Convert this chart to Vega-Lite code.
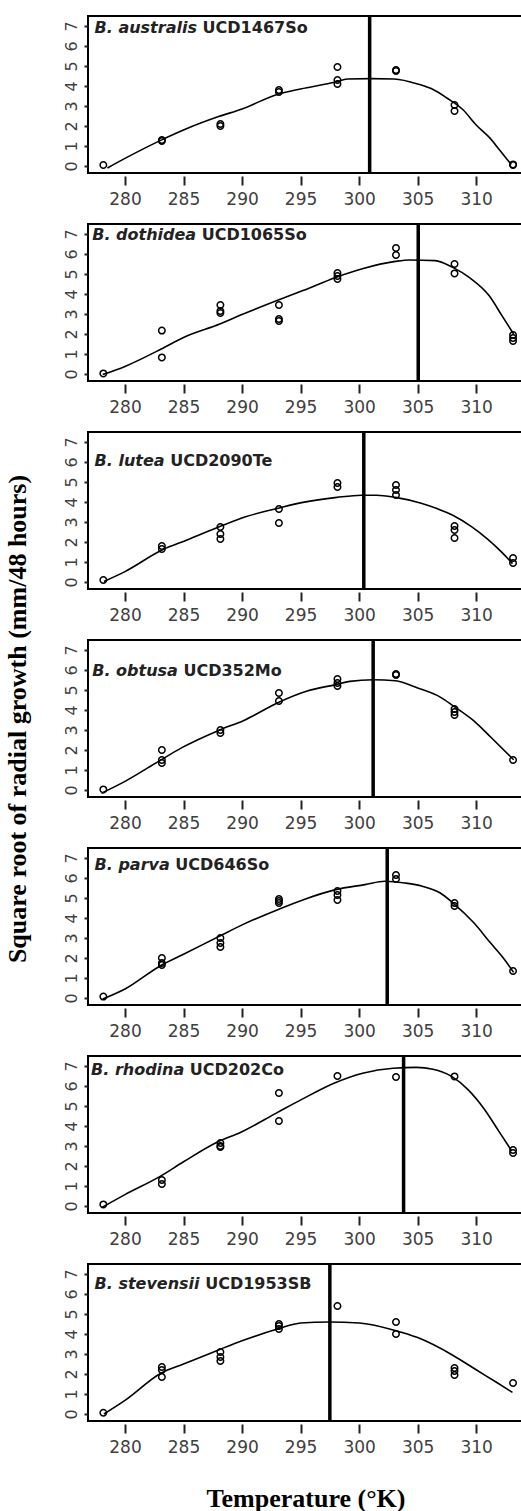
{
"$schema": "https://vega.github.io/schema/vega-lite/v6.json",
"padding": {"left": 2, "top": 13, "right": 0, "bottom": 0},
"background": "white",
"bounds": "flush",
"spacing": 51,
"config": {
  "view": {"stroke": "black", "strokeWidth": 2},
  "axis": {"grid": false, "domain": false, "labelFont": "DejaVu Sans", "labelColor": "#404040", "tickColor": "#222222", "tickWidth": 2, "title": null},
  "axisX": {"tickSize": 9, "offset": 3, "labelFontSize": 17, "labelPadding": 6},
  "axisY": {"tickSize": 4, "labelFontSize": 16, "labelPadding": 5}
},
"datasets": {
  "info": [
    {"id": "aus", "species": "B. australis", "strain": "UCD1467So", "topt": 300.9},
    {"id": "dot", "species": "B. dothidea", "strain": "UCD1065So", "topt": 305.05},
    {"id": "lut", "species": "B. lutea", "strain": "UCD2090Te", "topt": 300.4},
    {"id": "obt", "species": "B. obtusa", "strain": "UCD352Mo", "topt": 301.2},
    {"id": "par", "species": "B. parva", "strain": "UCD646So", "topt": 302.4},
    {"id": "rho", "species": "B. rhodina", "strain": "UCD202Co", "topt": 303.8},
    {"id": "ste", "species": "B. stevensii", "strain": "UCD1953SB", "topt": 297.5}
  ],
  "pts": [
    {"id":"aus","temp":278.15,"g":0.05},{"id":"aus","temp":283.15,"g":1.25},{"id":"aus","temp":283.15,"g":1.3},
    {"id":"aus","temp":288.15,"g":2.0},{"id":"aus","temp":288.15,"g":2.1},{"id":"aus","temp":293.15,"g":3.7},{"id":"aus","temp":293.15,"g":3.8},
    {"id":"aus","temp":298.15,"g":4.95},{"id":"aus","temp":298.15,"g":4.3},{"id":"aus","temp":298.15,"g":4.1},
    {"id":"aus","temp":303.15,"g":4.75},{"id":"aus","temp":303.15,"g":4.8},{"id":"aus","temp":308.15,"g":3.05},{"id":"aus","temp":308.15,"g":2.75},
    {"id":"aus","temp":313.15,"g":0.05},{"id":"aus","temp":313.15,"g":0.08},

    {"id":"dot","temp":278.15,"g":0.03},{"id":"dot","temp":283.15,"g":2.17},{"id":"dot","temp":283.15,"g":0.83},
    {"id":"dot","temp":288.15,"g":3.45},{"id":"dot","temp":288.15,"g":3.15},{"id":"dot","temp":288.15,"g":3.05},
    {"id":"dot","temp":293.15,"g":3.45},{"id":"dot","temp":293.15,"g":2.75},{"id":"dot","temp":293.15,"g":2.65},
    {"id":"dot","temp":298.15,"g":5.05},{"id":"dot","temp":298.15,"g":4.9},{"id":"dot","temp":298.15,"g":4.75},
    {"id":"dot","temp":303.15,"g":6.3},{"id":"dot","temp":303.15,"g":5.95},{"id":"dot","temp":308.15,"g":5.5},{"id":"dot","temp":308.15,"g":5.03},
    {"id":"dot","temp":313.15,"g":1.95},{"id":"dot","temp":313.15,"g":1.8},{"id":"dot","temp":313.15,"g":1.65},

    {"id":"lut","temp":278.15,"g":0.1},{"id":"lut","temp":283.15,"g":1.8},{"id":"lut","temp":283.15,"g":1.65},
    {"id":"lut","temp":288.15,"g":2.75},{"id":"lut","temp":288.15,"g":2.4},{"id":"lut","temp":288.15,"g":2.15},
    {"id":"lut","temp":293.15,"g":3.65},{"id":"lut","temp":293.15,"g":2.95},{"id":"lut","temp":298.15,"g":4.95},{"id":"lut","temp":298.15,"g":4.75},
    {"id":"lut","temp":303.15,"g":4.85},{"id":"lut","temp":303.15,"g":4.6},{"id":"lut","temp":303.15,"g":4.35},
    {"id":"lut","temp":308.15,"g":2.8},{"id":"lut","temp":308.15,"g":2.6},{"id":"lut","temp":308.15,"g":2.2},
    {"id":"lut","temp":313.15,"g":1.2},{"id":"lut","temp":313.15,"g":0.95},

    {"id":"obt","temp":278.15,"g":0.03},{"id":"obt","temp":283.15,"g":2.0},{"id":"obt","temp":283.15,"g":1.5},{"id":"obt","temp":283.15,"g":1.35},
    {"id":"obt","temp":288.15,"g":3.0},{"id":"obt","temp":288.15,"g":2.85},{"id":"obt","temp":293.15,"g":4.85},{"id":"obt","temp":293.15,"g":4.45},
    {"id":"obt","temp":298.15,"g":5.55},{"id":"obt","temp":298.15,"g":5.35},{"id":"obt","temp":298.15,"g":5.2},
    {"id":"obt","temp":303.15,"g":5.8},{"id":"obt","temp":303.15,"g":5.75},
    {"id":"obt","temp":308.15,"g":4.05},{"id":"obt","temp":308.15,"g":3.9},{"id":"obt","temp":308.15,"g":3.75},{"id":"obt","temp":313.15,"g":1.5},

    {"id":"par","temp":278.15,"g":0.07},{"id":"par","temp":283.15,"g":2.0},{"id":"par","temp":283.15,"g":1.75},{"id":"par","temp":283.15,"g":1.65},
    {"id":"par","temp":288.15,"g":3.0},{"id":"par","temp":288.15,"g":2.75},{"id":"par","temp":288.15,"g":2.55},
    {"id":"par","temp":293.15,"g":4.95},{"id":"par","temp":293.15,"g":4.85},{"id":"par","temp":293.15,"g":4.75},
    {"id":"par","temp":298.15,"g":5.35},{"id":"par","temp":298.15,"g":5.15},{"id":"par","temp":298.15,"g":4.9},
    {"id":"par","temp":303.15,"g":6.15},{"id":"par","temp":303.15,"g":5.95},{"id":"par","temp":308.15,"g":4.75},{"id":"par","temp":308.15,"g":4.6},
    {"id":"par","temp":313.15,"g":1.35},

    {"id":"rho","temp":278.15,"g":0.08},{"id":"rho","temp":283.15,"g":1.3},{"id":"rho","temp":283.15,"g":1.1},
    {"id":"rho","temp":288.15,"g":3.15},{"id":"rho","temp":288.15,"g":3.0},{"id":"rho","temp":288.15,"g":2.95},
    {"id":"rho","temp":293.15,"g":5.65},{"id":"rho","temp":293.15,"g":4.25},{"id":"rho","temp":298.15,"g":6.5},
    {"id":"rho","temp":303.15,"g":6.45},{"id":"rho","temp":308.15,"g":6.48},{"id":"rho","temp":313.15,"g":2.8},{"id":"rho","temp":313.15,"g":2.65},

    {"id":"ste","temp":278.15,"g":0.06},{"id":"ste","temp":283.15,"g":2.35},{"id":"ste","temp":283.15,"g":2.2},{"id":"ste","temp":283.15,"g":1.85},
    {"id":"ste","temp":288.15,"g":3.1},{"id":"ste","temp":288.15,"g":2.85},{"id":"ste","temp":288.15,"g":2.65},
    {"id":"ste","temp":293.15,"g":4.5},{"id":"ste","temp":293.15,"g":4.4},{"id":"ste","temp":293.15,"g":4.25},
    {"id":"ste","temp":298.15,"g":5.4},{"id":"ste","temp":303.15,"g":4.6},{"id":"ste","temp":303.15,"g":4.0},
    {"id":"ste","temp":308.15,"g":2.3},{"id":"ste","temp":308.15,"g":2.15},{"id":"ste","temp":308.15,"g":1.95},{"id":"ste","temp":313.15,"g":1.55}
  ],
  "curve": [
    {"id":"aus","temp":278.5,"g":-0.1},{"id":"aus","temp":280,"g":0.38},{"id":"aus","temp":283,"g":1.27},{"id":"aus","temp":285,"g":1.8},
    {"id":"aus","temp":288,"g":2.47},{"id":"aus","temp":290,"g":2.85},{"id":"aus","temp":293,"g":3.58},{"id":"aus","temp":295,"g":3.85},
    {"id":"aus","temp":298,"g":4.2},{"id":"aus","temp":299,"g":4.35},{"id":"aus","temp":301,"g":4.37},{"id":"aus","temp":303,"g":4.35},
    {"id":"aus","temp":305,"g":4.1},{"id":"aus","temp":306.4,"g":3.8},{"id":"aus","temp":307.5,"g":3.4},{"id":"aus","temp":308.9,"g":2.8},
    {"id":"aus","temp":310,"g":2.05},{"id":"aus","temp":311.2,"g":1.38},{"id":"aus","temp":312,"g":0.8},{"id":"aus","temp":313,"g":0.07},

    {"id":"dot","temp":278.1,"g":-0.03},{"id":"dot","temp":280,"g":0.38},{"id":"dot","temp":283.1,"g":1.25},{"id":"dot","temp":285,"g":1.83},
    {"id":"dot","temp":288.1,"g":2.5},{"id":"dot","temp":290.1,"g":3.0},{"id":"dot","temp":293.1,"g":3.7},{"id":"dot","temp":295.2,"g":4.17},
    {"id":"dot","temp":298,"g":4.83},{"id":"dot","temp":300.2,"g":5.25},{"id":"dot","temp":303.1,"g":5.63},{"id":"dot","temp":304.3,"g":5.7},
    {"id":"dot","temp":306.5,"g":5.67},{"id":"dot","temp":308,"g":5.33},{"id":"dot","temp":309.4,"g":4.83},{"id":"dot","temp":311.1,"g":3.92},
    {"id":"dot","temp":312.2,"g":2.92},{"id":"dot","temp":313.2,"g":2.0},

    {"id":"lut","temp":278.2,"g":0.03},{"id":"lut","temp":280,"g":0.52},{"id":"lut","temp":283.2,"g":1.61},{"id":"lut","temp":285.3,"g":2.1},
    {"id":"lut","temp":288.1,"g":2.77},{"id":"lut","temp":290.3,"g":3.26},{"id":"lut","temp":293.1,"g":3.69},{"id":"lut","temp":295.2,"g":3.98},
    {"id":"lut","temp":298.1,"g":4.23},{"id":"lut","temp":300.2,"g":4.34},{"id":"lut","temp":301.5,"g":4.34},{"id":"lut","temp":303.1,"g":4.23},
    {"id":"lut","temp":305.3,"g":3.94},{"id":"lut","temp":306.7,"g":3.66},{"id":"lut","temp":308,"g":3.34},{"id":"lut","temp":309.6,"g":2.77},
    {"id":"lut","temp":311,"g":2.13},{"id":"lut","temp":312.2,"g":1.48},{"id":"lut","temp":313.1,"g":0.92},

    {"id":"obt","temp":278,"g":-0.16},{"id":"obt","temp":280,"g":0.43},{"id":"obt","temp":283,"g":1.48},{"id":"obt","temp":284.9,"g":2.13},
    {"id":"obt","temp":288,"g":2.98},{"id":"obt","temp":290.2,"g":3.49},{"id":"obt","temp":293.1,"g":4.38},{"id":"obt","temp":295.5,"g":4.94},
    {"id":"obt","temp":298,"g":5.27},{"id":"obt","temp":299.2,"g":5.43},{"id":"obt","temp":301.2,"g":5.51},{"id":"obt","temp":303.1,"g":5.46},
    {"id":"obt","temp":305,"g":5.1},{"id":"obt","temp":307,"g":4.62},{"id":"obt","temp":308,"g":4.22},{"id":"obt","temp":309.9,"g":3.41},
    {"id":"obt","temp":311.3,"g":2.61},{"id":"obt","temp":313.2,"g":1.51},

    {"id":"par","temp":278.1,"g":-0.05},{"id":"par","temp":280,"g":0.45},{"id":"par","temp":283.1,"g":1.64},{"id":"par","temp":285,"g":2.19},
    {"id":"par","temp":288.1,"g":3.1},{"id":"par","temp":290.1,"g":3.68},{"id":"par","temp":293.1,"g":4.43},{"id":"par","temp":295.3,"g":4.93},
    {"id":"par","temp":298,"g":5.42},{"id":"par","temp":300.5,"g":5.67},{"id":"par","temp":302.2,"g":5.84},{"id":"par","temp":303.9,"g":5.75},
    {"id":"par","temp":305.4,"g":5.59},{"id":"par","temp":306.9,"g":5.26},{"id":"par","temp":308,"g":4.76},{"id":"par","temp":309.8,"g":3.76},
    {"id":"par","temp":311.2,"g":2.77},{"id":"par","temp":312.4,"g":1.94},{"id":"par","temp":313.2,"g":1.28},

    {"id":"rho","temp":278,"g":-0.08},{"id":"rho","temp":280,"g":0.57},{"id":"rho","temp":283,"g":1.48},{"id":"rho","temp":285,"g":2.21},
    {"id":"rho","temp":287.9,"g":3.2},{"id":"rho","temp":289.9,"g":3.69},{"id":"rho","temp":293,"g":4.67},{"id":"rho","temp":295.1,"g":5.33},
    {"id":"rho","temp":297.9,"g":6.15},{"id":"rho","temp":300.3,"g":6.64},{"id":"rho","temp":302.9,"g":6.89},{"id":"rho","temp":304.9,"g":6.93},
    {"id":"rho","temp":306.3,"g":6.84},{"id":"rho","temp":307.9,"g":6.48},{"id":"rho","temp":309.3,"g":5.82},{"id":"rho","temp":310.7,"g":4.84},
    {"id":"rho","temp":311.9,"g":3.77},{"id":"rho","temp":313,"g":2.79},

    {"id":"ste","temp":278.2,"g":0.0},{"id":"ste","temp":280,"g":0.68},{"id":"ste","temp":283.1,"g":2.05},{"id":"ste","temp":285,"g":2.5},
    {"id":"ste","temp":288.1,"g":3.23},{"id":"ste","temp":290,"g":3.66},{"id":"ste","temp":293.1,"g":4.26},{"id":"ste","temp":295,"g":4.55},
    {"id":"ste","temp":297.4,"g":4.6},{"id":"ste","temp":300,"g":4.55},{"id":"ste","temp":303,"g":4.19},{"id":"ste","temp":305,"g":3.82},
    {"id":"ste","temp":308,"g":2.94},{"id":"ste","temp":310,"g":2.21},{"id":"ste","temp":311.8,"g":1.56},{"id":"ste","temp":313.1,"g":1.08}
  ]
},
"vconcat": [
 {"width": 435, "height": 157, "layer": [
  {"data": {"name": "curve"}, "transform": [{"filter": "datum.id === 'aus'"}], "mark": {"type": "line", "color": "black", "strokeWidth": 1.6, "interpolate": "monotone", "clip": true},
   "encoding": {"x": {"field": "temp", "type": "quantitative", "scale": {"domain": [276.84, 314], "nice": false, "zero": false}, "axis": {"values": [280,285,290,295,300,305,310], "title": null}},
                "y": {"field": "g", "type": "quantitative", "scale": {"domain": [-0.35, 7.5], "nice": false, "zero": false}, "axis": {"values": [0,1,2,3,4,5,6,7], "title": null, "labelAngle": -90, "labelAlign": "center", "labelBaseline": "bottom"}}}},
  {"data": {"name": "pts"}, "transform": [{"filter": "datum.id === 'aus'"}], "mark": {"type": "point", "shape": "circle", "filled": false, "color": "black", "strokeWidth": 1.5, "size": 42, "opacity": 1},
   "encoding": {"x": {"field": "temp", "type": "quantitative", "axis": {"values": [280,285,290,295,300,305,310], "title": null}}, "y": {"field": "g", "type": "quantitative", "axis": {"values": [0,1,2,3,4,5,6,7], "title": null, "labelAngle": -90, "labelAlign": "center", "labelBaseline": "bottom"}}}},
  {"data": {"name": "info"}, "transform": [{"filter": "datum.id === 'aus'"}], "mark": {"type": "rule", "color": "black", "strokeWidth": 3.5},
   "encoding": {"x": {"field": "topt", "type": "quantitative", "axis": {"values": [280,285,290,295,300,305,310], "title": null}}}},
  {"data": {"name": "info"}, "transform": [{"filter": "datum.id === 'aus'"}], "mark": {"type": "text", "font": "DejaVu Sans", "fontSize": 16, "fontWeight": "bold", "fontStyle": "italic", "align": "left", "baseline": "alphabetic", "color": "#222222"},
   "encoding": {"x": {"datum": 277.4, "type": "quantitative", "axis": {"values": [280,285,290,295,300,305,310], "title": null}}, "y": {"datum": 6.67, "type": "quantitative", "axis": {"values": [0,1,2,3,4,5,6,7], "title": null, "labelAngle": -90, "labelAlign": "center", "labelBaseline": "bottom"}}, "text": {"field": "species"}}},
  {"data": {"name": "info"}, "transform": [{"filter": "datum.id === 'aus'"}], "mark": {"type": "text", "font": "DejaVu Sans", "fontSize": 16, "fontWeight": "bold", "align": "left", "baseline": "alphabetic", "color": "#222222"},
   "encoding": {"x": {"datum": 286.63, "type": "quantitative", "axis": {"values": [280,285,290,295,300,305,310], "title": null}}, "y": {"datum": 6.67, "type": "quantitative", "axis": {"values": [0,1,2,3,4,5,6,7], "title": null, "labelAngle": -90, "labelAlign": "center", "labelBaseline": "bottom"}}, "text": {"field": "strain"}}}
 ]},
 {"width": 435, "height": 157, "layer": [
  {"data": {"name": "curve"}, "transform": [{"filter": "datum.id === 'dot'"}], "mark": {"type": "line", "color": "black", "strokeWidth": 1.6, "interpolate": "monotone", "clip": true},
   "encoding": {"x": {"field": "temp", "type": "quantitative", "scale": {"domain": [276.84, 314], "nice": false, "zero": false}, "axis": {"values": [280,285,290,295,300,305,310], "title": null}},
                "y": {"field": "g", "type": "quantitative", "scale": {"domain": [-0.35, 7.5], "nice": false, "zero": false}, "axis": {"values": [0,1,2,3,4,5,6,7], "title": null, "labelAngle": -90, "labelAlign": "center", "labelBaseline": "bottom"}}}},
  {"data": {"name": "pts"}, "transform": [{"filter": "datum.id === 'dot'"}], "mark": {"type": "point", "shape": "circle", "filled": false, "color": "black", "strokeWidth": 1.5, "size": 42, "opacity": 1},
   "encoding": {"x": {"field": "temp", "type": "quantitative", "axis": {"values": [280,285,290,295,300,305,310], "title": null}}, "y": {"field": "g", "type": "quantitative", "axis": {"values": [0,1,2,3,4,5,6,7], "title": null, "labelAngle": -90, "labelAlign": "center", "labelBaseline": "bottom"}}}},
  {"data": {"name": "info"}, "transform": [{"filter": "datum.id === 'dot'"}], "mark": {"type": "rule", "color": "black", "strokeWidth": 3.5},
   "encoding": {"x": {"field": "topt", "type": "quantitative", "axis": {"values": [280,285,290,295,300,305,310], "title": null}}}},
  {"data": {"name": "info"}, "transform": [{"filter": "datum.id === 'dot'"}], "mark": {"type": "text", "font": "DejaVu Sans", "fontSize": 16, "fontWeight": "bold", "fontStyle": "italic", "align": "left", "baseline": "alphabetic", "color": "#222222"},
   "encoding": {"x": {"datum": 277.2, "type": "quantitative", "axis": {"values": [280,285,290,295,300,305,310], "title": null}}, "y": {"datum": 6.72, "type": "quantitative", "axis": {"values": [0,1,2,3,4,5,6,7], "title": null, "labelAngle": -90, "labelAlign": "center", "labelBaseline": "bottom"}}, "text": {"field": "species"}}},
  {"data": {"name": "info"}, "transform": [{"filter": "datum.id === 'dot'"}], "mark": {"type": "text", "font": "DejaVu Sans", "fontSize": 16, "fontWeight": "bold", "align": "left", "baseline": "alphabetic", "color": "#222222"},
   "encoding": {"x": {"datum": 286.55, "type": "quantitative", "axis": {"values": [280,285,290,295,300,305,310], "title": null}}, "y": {"datum": 6.72, "type": "quantitative", "axis": {"values": [0,1,2,3,4,5,6,7], "title": null, "labelAngle": -90, "labelAlign": "center", "labelBaseline": "bottom"}}, "text": {"field": "strain"}}}
 ]},
 {"width": 435, "height": 157, "layer": [
  {"data": {"name": "curve"}, "transform": [{"filter": "datum.id === 'lut'"}], "mark": {"type": "line", "color": "black", "strokeWidth": 1.6, "interpolate": "monotone", "clip": true},
   "encoding": {"x": {"field": "temp", "type": "quantitative", "scale": {"domain": [276.84, 314], "nice": false, "zero": false}, "axis": {"values": [280,285,290,295,300,305,310], "title": null}},
                "y": {"field": "g", "type": "quantitative", "scale": {"domain": [-0.35, 7.5], "nice": false, "zero": false}, "axis": {"values": [0,1,2,3,4,5,6,7], "title": null, "labelAngle": -90, "labelAlign": "center", "labelBaseline": "bottom"}}}},
  {"data": {"name": "pts"}, "transform": [{"filter": "datum.id === 'lut'"}], "mark": {"type": "point", "shape": "circle", "filled": false, "color": "black", "strokeWidth": 1.5, "size": 42, "opacity": 1},
   "encoding": {"x": {"field": "temp", "type": "quantitative", "axis": {"values": [280,285,290,295,300,305,310], "title": null}}, "y": {"field": "g", "type": "quantitative", "axis": {"values": [0,1,2,3,4,5,6,7], "title": null, "labelAngle": -90, "labelAlign": "center", "labelBaseline": "bottom"}}}},
  {"data": {"name": "info"}, "transform": [{"filter": "datum.id === 'lut'"}], "mark": {"type": "rule", "color": "black", "strokeWidth": 3.5},
   "encoding": {"x": {"field": "topt", "type": "quantitative", "axis": {"values": [280,285,290,295,300,305,310], "title": null}}}},
  {"data": {"name": "info"}, "transform": [{"filter": "datum.id === 'lut'"}], "mark": {"type": "text", "font": "DejaVu Sans", "fontSize": 16, "fontWeight": "bold", "fontStyle": "italic", "align": "left", "baseline": "alphabetic", "color": "#222222"},
   "encoding": {"x": {"datum": 277.4, "type": "quantitative", "axis": {"values": [280,285,290,295,300,305,310], "title": null}}, "y": {"datum": 5.8, "type": "quantitative", "axis": {"values": [0,1,2,3,4,5,6,7], "title": null, "labelAngle": -90, "labelAlign": "center", "labelBaseline": "bottom"}}, "text": {"field": "species"}}},
  {"data": {"name": "info"}, "transform": [{"filter": "datum.id === 'lut'"}], "mark": {"type": "text", "font": "DejaVu Sans", "fontSize": 16, "fontWeight": "bold", "align": "left", "baseline": "alphabetic", "color": "#222222"},
   "encoding": {"x": {"datum": 283.86, "type": "quantitative", "axis": {"values": [280,285,290,295,300,305,310], "title": null}}, "y": {"datum": 5.8, "type": "quantitative", "axis": {"values": [0,1,2,3,4,5,6,7], "title": null, "labelAngle": -90, "labelAlign": "center", "labelBaseline": "bottom"}}, "text": {"field": "strain"}}}
 ]},
 {"width": 435, "height": 157, "layer": [
  {"data": {"name": "curve"}, "transform": [{"filter": "datum.id === 'obt'"}], "mark": {"type": "line", "color": "black", "strokeWidth": 1.6, "interpolate": "monotone", "clip": true},
   "encoding": {"x": {"field": "temp", "type": "quantitative", "scale": {"domain": [276.84, 314], "nice": false, "zero": false}, "axis": {"values": [280,285,290,295,300,305,310], "title": null}},
                "y": {"field": "g", "type": "quantitative", "scale": {"domain": [-0.35, 7.5], "nice": false, "zero": false}, "axis": {"values": [0,1,2,3,4,5,6,7], "title": "Square root of radial growth (mm/48 hours)", "titleFont": "Liberation Serif", "titleFontSize": 26, "titleFontWeight": "bold", "titleColor": "black", "titlePadding": 33, "labelAngle": -90, "labelAlign": "center", "labelBaseline": "bottom"}}}},
  {"data": {"name": "pts"}, "transform": [{"filter": "datum.id === 'obt'"}], "mark": {"type": "point", "shape": "circle", "filled": false, "color": "black", "strokeWidth": 1.5, "size": 42, "opacity": 1},
   "encoding": {"x": {"field": "temp", "type": "quantitative", "axis": {"values": [280,285,290,295,300,305,310], "title": null}}, "y": {"field": "g", "type": "quantitative", "axis": {"values": [0,1,2,3,4,5,6,7], "title": "Square root of radial growth (mm/48 hours)", "titleFont": "Liberation Serif", "titleFontSize": 26, "titleFontWeight": "bold", "titleColor": "black", "titlePadding": 33, "labelAngle": -90, "labelAlign": "center", "labelBaseline": "bottom"}}}},
  {"data": {"name": "info"}, "transform": [{"filter": "datum.id === 'obt'"}], "mark": {"type": "rule", "color": "black", "strokeWidth": 3.5},
   "encoding": {"x": {"field": "topt", "type": "quantitative", "axis": {"values": [280,285,290,295,300,305,310], "title": null}}}},
  {"data": {"name": "info"}, "transform": [{"filter": "datum.id === 'obt'"}], "mark": {"type": "text", "font": "DejaVu Sans", "fontSize": 16, "fontWeight": "bold", "fontStyle": "italic", "align": "left", "baseline": "alphabetic", "color": "#222222"},
   "encoding": {"x": {"datum": 277.2, "type": "quantitative", "axis": {"values": [280,285,290,295,300,305,310], "title": null}}, "y": {"datum": 5.72, "type": "quantitative", "axis": {"values": [0,1,2,3,4,5,6,7], "title": "Square root of radial growth (mm/48 hours)", "titleFont": "Liberation Serif", "titleFontSize": 26, "titleFontWeight": "bold", "titleColor": "black", "titlePadding": 33, "labelAngle": -90, "labelAlign": "center", "labelBaseline": "bottom"}}, "text": {"field": "species"}}},
  {"data": {"name": "info"}, "transform": [{"filter": "datum.id === 'obt'"}], "mark": {"type": "text", "font": "DejaVu Sans", "fontSize": 16, "fontWeight": "bold", "align": "left", "baseline": "alphabetic", "color": "#222222"},
   "encoding": {"x": {"datum": 284.99, "type": "quantitative", "axis": {"values": [280,285,290,295,300,305,310], "title": null}}, "y": {"datum": 5.72, "type": "quantitative", "axis": {"values": [0,1,2,3,4,5,6,7], "title": "Square root of radial growth (mm/48 hours)", "titleFont": "Liberation Serif", "titleFontSize": 26, "titleFontWeight": "bold", "titleColor": "black", "titlePadding": 33, "labelAngle": -90, "labelAlign": "center", "labelBaseline": "bottom"}}, "text": {"field": "strain"}}}
 ]},
 {"width": 435, "height": 157, "layer": [
  {"data": {"name": "curve"}, "transform": [{"filter": "datum.id === 'par'"}], "mark": {"type": "line", "color": "black", "strokeWidth": 1.6, "interpolate": "monotone", "clip": true},
   "encoding": {"x": {"field": "temp", "type": "quantitative", "scale": {"domain": [276.84, 314], "nice": false, "zero": false}, "axis": {"values": [280,285,290,295,300,305,310], "title": null}},
                "y": {"field": "g", "type": "quantitative", "scale": {"domain": [-0.35, 7.5], "nice": false, "zero": false}, "axis": {"values": [0,1,2,3,4,5,6,7], "title": null, "labelAngle": -90, "labelAlign": "center", "labelBaseline": "bottom"}}}},
  {"data": {"name": "pts"}, "transform": [{"filter": "datum.id === 'par'"}], "mark": {"type": "point", "shape": "circle", "filled": false, "color": "black", "strokeWidth": 1.5, "size": 42, "opacity": 1},
   "encoding": {"x": {"field": "temp", "type": "quantitative", "axis": {"values": [280,285,290,295,300,305,310], "title": null}}, "y": {"field": "g", "type": "quantitative", "axis": {"values": [0,1,2,3,4,5,6,7], "title": null, "labelAngle": -90, "labelAlign": "center", "labelBaseline": "bottom"}}}},
  {"data": {"name": "info"}, "transform": [{"filter": "datum.id === 'par'"}], "mark": {"type": "rule", "color": "black", "strokeWidth": 3.5},
   "encoding": {"x": {"field": "topt", "type": "quantitative", "axis": {"values": [280,285,290,295,300,305,310], "title": null}}}},
  {"data": {"name": "info"}, "transform": [{"filter": "datum.id === 'par'"}], "mark": {"type": "text", "font": "DejaVu Sans", "fontSize": 16, "fontWeight": "bold", "fontStyle": "italic", "align": "left", "baseline": "alphabetic", "color": "#222222"},
   "encoding": {"x": {"datum": 277.4, "type": "quantitative", "axis": {"values": [280,285,290,295,300,305,310], "title": null}}, "y": {"datum": 6.4, "type": "quantitative", "axis": {"values": [0,1,2,3,4,5,6,7], "title": null, "labelAngle": -90, "labelAlign": "center", "labelBaseline": "bottom"}}, "text": {"field": "species"}}},
  {"data": {"name": "info"}, "transform": [{"filter": "datum.id === 'par'"}], "mark": {"type": "text", "font": "DejaVu Sans", "fontSize": 16, "fontWeight": "bold", "align": "left", "baseline": "alphabetic", "color": "#222222"},
   "encoding": {"x": {"datum": 284.3, "type": "quantitative", "axis": {"values": [280,285,290,295,300,305,310], "title": null}}, "y": {"datum": 6.4, "type": "quantitative", "axis": {"values": [0,1,2,3,4,5,6,7], "title": null, "labelAngle": -90, "labelAlign": "center", "labelBaseline": "bottom"}}, "text": {"field": "strain"}}}
 ]},
 {"width": 435, "height": 157, "layer": [
  {"data": {"name": "curve"}, "transform": [{"filter": "datum.id === 'rho'"}], "mark": {"type": "line", "color": "black", "strokeWidth": 1.6, "interpolate": "monotone", "clip": true},
   "encoding": {"x": {"field": "temp", "type": "quantitative", "scale": {"domain": [276.84, 314], "nice": false, "zero": false}, "axis": {"values": [280,285,290,295,300,305,310], "title": null}},
                "y": {"field": "g", "type": "quantitative", "scale": {"domain": [-0.35, 7.5], "nice": false, "zero": false}, "axis": {"values": [0,1,2,3,4,5,6,7], "title": null, "labelAngle": -90, "labelAlign": "center", "labelBaseline": "bottom"}}}},
  {"data": {"name": "pts"}, "transform": [{"filter": "datum.id === 'rho'"}], "mark": {"type": "point", "shape": "circle", "filled": false, "color": "black", "strokeWidth": 1.5, "size": 42, "opacity": 1},
   "encoding": {"x": {"field": "temp", "type": "quantitative", "axis": {"values": [280,285,290,295,300,305,310], "title": null}}, "y": {"field": "g", "type": "quantitative", "axis": {"values": [0,1,2,3,4,5,6,7], "title": null, "labelAngle": -90, "labelAlign": "center", "labelBaseline": "bottom"}}}},
  {"data": {"name": "info"}, "transform": [{"filter": "datum.id === 'rho'"}], "mark": {"type": "rule", "color": "black", "strokeWidth": 3.5},
   "encoding": {"x": {"field": "topt", "type": "quantitative", "axis": {"values": [280,285,290,295,300,305,310], "title": null}}}},
  {"data": {"name": "info"}, "transform": [{"filter": "datum.id === 'rho'"}], "mark": {"type": "text", "font": "DejaVu Sans", "fontSize": 16, "fontWeight": "bold", "fontStyle": "italic", "align": "left", "baseline": "alphabetic", "color": "#222222"},
   "encoding": {"x": {"datum": 277.1, "type": "quantitative", "axis": {"values": [280,285,290,295,300,305,310], "title": null}}, "y": {"datum": 6.53, "type": "quantitative", "axis": {"values": [0,1,2,3,4,5,6,7], "title": null, "labelAngle": -90, "labelAlign": "center", "labelBaseline": "bottom"}}, "text": {"field": "species"}}},
  {"data": {"name": "info"}, "transform": [{"filter": "datum.id === 'rho'"}], "mark": {"type": "text", "font": "DejaVu Sans", "fontSize": 16, "fontWeight": "bold", "align": "left", "baseline": "alphabetic", "color": "#222222"},
   "encoding": {"x": {"datum": 285.54, "type": "quantitative", "axis": {"values": [280,285,290,295,300,305,310], "title": null}}, "y": {"datum": 6.53, "type": "quantitative", "axis": {"values": [0,1,2,3,4,5,6,7], "title": null, "labelAngle": -90, "labelAlign": "center", "labelBaseline": "bottom"}}, "text": {"field": "strain"}}}
 ]},
 {"width": 435, "height": 157, "layer": [
  {"data": {"name": "curve"}, "transform": [{"filter": "datum.id === 'ste'"}], "mark": {"type": "line", "color": "black", "strokeWidth": 1.6, "interpolate": "monotone", "clip": true},
   "encoding": {"x": {"field": "temp", "type": "quantitative", "scale": {"domain": [276.84, 314], "nice": false, "zero": false}, "axis": {"values": [280,285,290,295,300,305,310], "title": "Temperature (°K)", "titleFont": "Liberation Serif", "titleFontSize": 26, "titleFontWeight": "bold", "titleColor": "black", "titlePadding": 30}},
                "y": {"field": "g", "type": "quantitative", "scale": {"domain": [-0.35, 7.5], "nice": false, "zero": false}, "axis": {"values": [0,1,2,3,4,5,6,7], "title": null, "labelAngle": -90, "labelAlign": "center", "labelBaseline": "bottom"}}}},
  {"data": {"name": "pts"}, "transform": [{"filter": "datum.id === 'ste'"}], "mark": {"type": "point", "shape": "circle", "filled": false, "color": "black", "strokeWidth": 1.5, "size": 42, "opacity": 1},
   "encoding": {"x": {"field": "temp", "type": "quantitative", "axis": {"values": [280,285,290,295,300,305,310], "title": "Temperature (°K)", "titleFont": "Liberation Serif", "titleFontSize": 26, "titleFontWeight": "bold", "titleColor": "black", "titlePadding": 30}}, "y": {"field": "g", "type": "quantitative", "axis": {"values": [0,1,2,3,4,5,6,7], "title": null, "labelAngle": -90, "labelAlign": "center", "labelBaseline": "bottom"}}}},
  {"data": {"name": "info"}, "transform": [{"filter": "datum.id === 'ste'"}], "mark": {"type": "rule", "color": "black", "strokeWidth": 3.5},
   "encoding": {"x": {"field": "topt", "type": "quantitative", "axis": {"values": [280,285,290,295,300,305,310], "title": "Temperature (°K)", "titleFont": "Liberation Serif", "titleFontSize": 26, "titleFontWeight": "bold", "titleColor": "black", "titlePadding": 30}}}},
  {"data": {"name": "info"}, "transform": [{"filter": "datum.id === 'ste'"}], "mark": {"type": "text", "font": "DejaVu Sans", "fontSize": 16, "fontWeight": "bold", "fontStyle": "italic", "align": "left", "baseline": "alphabetic", "color": "#222222"},
   "encoding": {"x": {"datum": 277.4, "type": "quantitative", "axis": {"values": [280,285,290,295,300,305,310], "title": "Temperature (°K)", "titleFont": "Liberation Serif", "titleFontSize": 26, "titleFontWeight": "bold", "titleColor": "black", "titlePadding": 30}}, "y": {"datum": 6.25, "type": "quantitative", "axis": {"values": [0,1,2,3,4,5,6,7], "title": null, "labelAngle": -90, "labelAlign": "center", "labelBaseline": "bottom"}}, "text": {"field": "species"}}},
  {"data": {"name": "info"}, "transform": [{"filter": "datum.id === 'ste'"}], "mark": {"type": "text", "font": "DejaVu Sans", "fontSize": 16, "fontWeight": "bold", "align": "left", "baseline": "alphabetic", "color": "#222222"},
   "encoding": {"x": {"datum": 286.85, "type": "quantitative", "axis": {"values": [280,285,290,295,300,305,310], "title": "Temperature (°K)", "titleFont": "Liberation Serif", "titleFontSize": 26, "titleFontWeight": "bold", "titleColor": "black", "titlePadding": 30}}, "y": {"datum": 6.25, "type": "quantitative", "axis": {"values": [0,1,2,3,4,5,6,7], "title": null, "labelAngle": -90, "labelAlign": "center", "labelBaseline": "bottom"}}, "text": {"field": "strain"}}}
 ]}
]
}
